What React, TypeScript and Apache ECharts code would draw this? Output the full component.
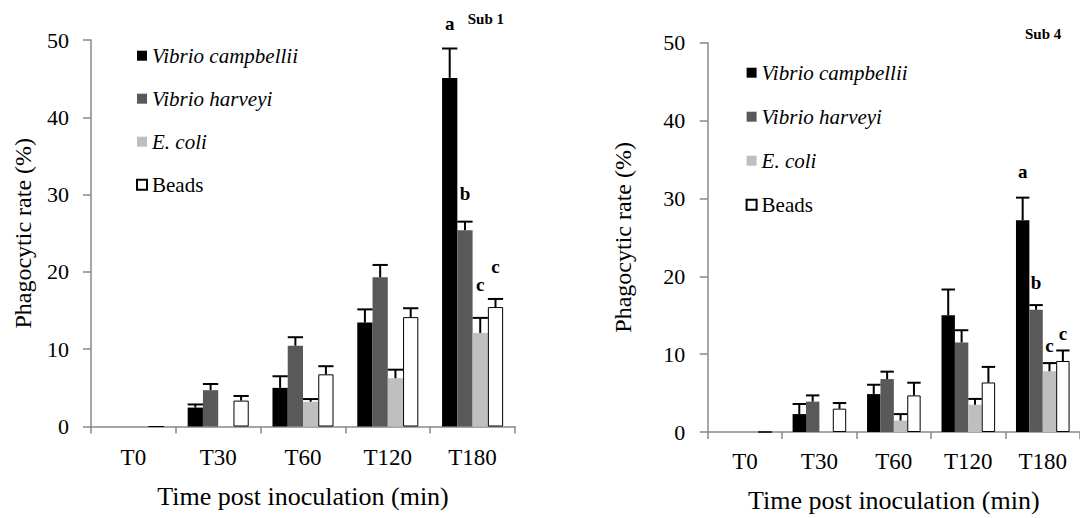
import React, { useEffect, useRef } from "react";
import * as echarts from "echarts";

const categories = ["T0", "T30", "T60", "T120", "T180"];
const seriesNames = ["Vibrio campbellii", "Vibrio harveyi", "E. coli", "Beads"];
const yTicks = [0, 10, 20, 30, 40, 50];

// Sub 1 (left panel)
const sub1Campbellii = [0, 2.45, 5.0, 13.45, 45.1];
const sub1Harveyi = [0, 4.7, 10.45, 19.3, 25.4];
const sub1Ecoli = [0, 0, 3.2, 6.25, 12.1];
const sub1Beads = [0, 3.35, 6.75, 14.15, 15.45];
const sub1CampbelliiErr = [0, 0.4, 1.5, 1.7, 3.8];
const sub1HarveyiErr = [0, 0.8, 1.1, 1.6, 1.1];
const sub1EcoliErr = [0, 0, 0.35, 1.1, 1.95];
const sub1BeadsErr = [0, 0.6, 1.05, 1.15, 1.05];

// Sub 4 (right panel)
const sub4Campbellii = [0, 2.3, 4.87, 15.0, 27.2];
const sub4Harveyi = [0, 3.9, 6.8, 11.5, 15.7];
const sub4Ecoli = [0, 0, 1.47, 3.5, 7.8];
const sub4Beads = [0, 3.0, 4.7, 6.36, 9.12];
const sub4CampbelliiErr = [0, 1.3, 1.2, 3.3, 2.9];
const sub4HarveyiErr = [0, 0.8, 0.95, 1.57, 0.6];
const sub4EcoliErr = [0, 0, 0.83, 0.75, 1.05];
const sub4BeadsErr = [0, 0.72, 1.63, 2.0, 1.35];

// significance letters at T180, one per series, with the value where each is written
const sigLetters = ["a", "b", "c", "c"];
const sub1LetterY = [52.1, 30.2, 18.4, 20.7];
const sub4LetterY = [33.5, 19.2, 11.1, 12.6];

const panelTitles = ["Sub 1", "Sub 4"];

const FONT = "Liberation Serif";
const colors = ["#000000", "#595959", "#bfbfbf", "#ffffff"];
const GAP = 0.28;

function buildPanel(
  idx: number,
  vals: number[][],
  errs: number[][],
  letterY: number[]
) {
  const series: any[] = vals.map((v, s) => ({
    name: seriesNames[s],
    type: "bar",
    xAxisIndex: idx,
    yAxisIndex: idx,
    data: v,
    barGap: "0%",
    barCategoryGap: GAP * 100 + "%",
    itemStyle:
      s === 3
        ? { color: colors[s], borderColor: "#000", borderWidth: 1 }
        : { color: colors[s] },
  }));
  const errData: number[][] = [];
  vals.forEach((v, s) =>
    v.forEach((val, i) => errData.push([i, val, errs[s][i], s]))
  );
  const geom = (api: any, cat: number, s: number) => {
    const c = api.coord([cat, 0]);
    const bandW = api.size([1, 0])[0];
    const total = bandW * (1 - GAP);
    const barW = total / 4;
    const cx = c[0] - total / 2 + barW * (s + 0.5);
    return { cx, barW };
  };
  series.push({
    type: "custom",
    xAxisIndex: idx,
    yAxisIndex: idx,
    silent: true,
    clip: false,
    z: 5,
    encode: { x: 0, y: 1 },
    data: errData,
    renderItem: (params: any, api: any) => {
      const cat = api.value(0);
      const v = api.value(1);
      const e = api.value(2);
      const s = api.value(3);
      if (!(e > 0)) return null;
      const { cx, barW } = geom(api, cat, s);
      const yb = api.coord([cat, v])[1];
      const yt = api.coord([cat, v + e])[1];
      const st = { stroke: "#000", lineWidth: 2 };
      return {
        type: "group",
        children: [
          { type: "line", shape: { x1: cx, y1: yb, x2: cx, y2: yt }, style: st },
          {
            type: "line",
            shape: { x1: cx - barW / 2, y1: yt, x2: cx + barW / 2, y2: yt },
            style: st,
          },
        ],
      };
    },
  });
  series.push({
    type: "custom",
    xAxisIndex: idx,
    yAxisIndex: idx,
    silent: true,
    clip: false,
    z: 6,
    encode: { x: 0, y: 1 },
    data: letterY.map((y, s) => [4, y, s]),
    renderItem: (params: any, api: any) => {
      const cat = api.value(0);
      const y = api.value(1);
      const s = api.value(2);
      const { cx } = geom(api, cat, s);
      const py = api.coord([cat, y])[1];
      return {
        type: "text",
        x: cx,
        y: py,
        style: {
          text: sigLetters[params.dataIndex],
          fontFamily: FONT,
          fontWeight: "bold",
          fontSize: 19,
          fill: "#000",
          align: "center",
          verticalAlign: "middle",
        },
      };
    },
  });
  return series;
}

export default function App() {
  const ref = useRef<HTMLDivElement>(null);
  useEffect(() => {
    if (!ref.current) return;
    const chart = echarts.init(ref.current, undefined, { renderer: "svg" });
    const axisLine = { lineStyle: { color: "#888888", width: 1.5 } };
    const mkX = (idx: number, margin: number, nameGap: number) => ({
      type: "category",
      gridIndex: idx,
      data: categories,
      name: "Time post inoculation (min)",
      nameLocation: "middle",
      nameGap,
      nameTextStyle: { fontFamily: FONT, fontSize: 26, color: "#000" },
      axisLine,
      axisTick: { show: true, length: 7, lineStyle: { color: "#888888", width: 1.5 } },
      axisLabel: { fontFamily: FONT, fontSize: 23, color: "#000", margin },
      splitLine: { show: false },
    });
    const mkY = (idx: number, nameGap: number, margin: number) => ({
      type: "value",
      gridIndex: idx,
      min: 0,
      max: 50,
      interval: 10,
      name: "Phagocytic rate (%)",
      nameLocation: "middle",
      nameGap,
      nameRotate: 90,
      nameTextStyle: { fontFamily: FONT, fontSize: 24, color: "#000" },
      axisLine: { show: true, ...axisLine },
      axisTick: { show: true, length: 8, lineStyle: { color: "#888888", width: 1.5 } },
      axisLabel: {
        fontFamily: FONT,
        fontSize: 22,
        color: "#000",
        margin,
        formatter: (v: number) => (yTicks.includes(v) ? String(v) : ""),
      },
      splitLine: { show: false },
    });
    const legendData = seriesNames.map((n, i) => ({
      name: n,
      textStyle: i < 3 ? { fontStyle: "italic" } : { fontStyle: "normal" },
    }));
    const mkLegend = (left: number, top: number, itemGap: number) => ({
      orient: "vertical",
      left,
      top,
      padding: 0,
      itemGap,
      itemWidth: 10,
      itemHeight: 10,
      icon: "rect",
      selectedMode: false,
      data: legendData,
      textStyle: {
        fontFamily: FONT,
        fontSize: 21,
        color: "#000",
        lineHeight: 22,
        padding: [0, 0, 0, 0],
      },
    });
    chart.setOption({
      animation: false,
      backgroundColor: "#ffffff",
      grid: [
        { left: 91, top: 40, width: 424, height: 386.5 },
        { left: 707.7, top: 42.7, width: 375, height: 391.6 },
      ],
      xAxis: [mkX(0, 19, 57), mkX(1, 17.5, 55)],
      yAxis: [mkY(0, 56, 22), mkY(1, 73, 22.5)],
      legend: [mkLegend(136, 44.7, 21), mkLegend(745.6, 61.7, 22)],
      graphic: [
        {
          type: "text",
          left: 467.7,
          top: 11,
          style: {
            text: panelTitles[0],
            fontFamily: FONT,
            fontWeight: "bold",
            fontSize: 15,
            fill: "#000",
          },
        },
        {
          type: "text",
          left: 1025,
          top: 26,
          style: {
            text: panelTitles[1],
            fontFamily: FONT,
            fontWeight: "bold",
            fontSize: 15,
            fill: "#000",
          },
        },
      ],
      series: [
        ...buildPanel(
          0,
          [sub1Campbellii, sub1Harveyi, sub1Ecoli, sub1Beads],
          [sub1CampbelliiErr, sub1HarveyiErr, sub1EcoliErr, sub1BeadsErr],
          sub1LetterY
        ),
        ...buildPanel(
          1,
          [sub4Campbellii, sub4Harveyi, sub4Ecoli, sub4Beads],
          [sub4CampbelliiErr, sub4HarveyiErr, sub4EcoliErr, sub4BeadsErr],
          sub4LetterY
        ),
      ],
    });
    return () => chart.dispose();
  }, []);
  return (
    <div
      ref={ref}
      style={{ position: "absolute", left: 0, top: 0, width: 1080, height: 518 }}
    />
  );
}
